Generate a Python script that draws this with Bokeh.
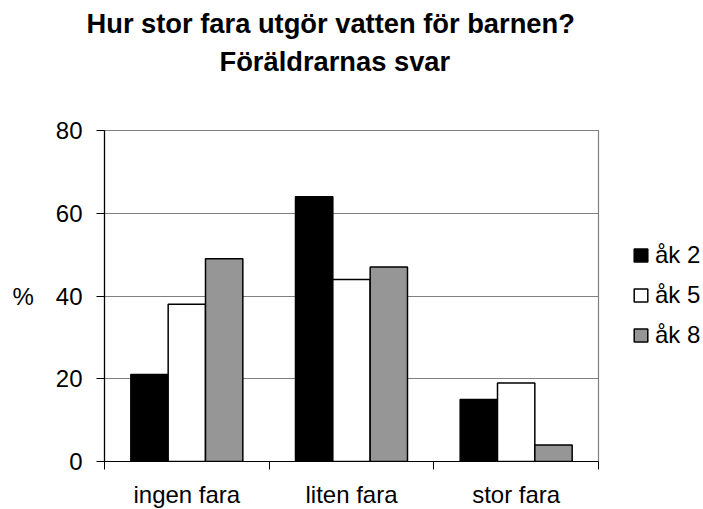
from bokeh.plotting import figure
from bokeh.models import (ColumnDataSource, FixedTicker, Legend, LegendItem, Title, Range1d)
from bokeh.transform import dodge
from bokeh.embed import file_html
from bokeh.resources import INLINE

categories = ["ingen fara", "liten fara", "stor fara"]
series_names = ["åk 2", "åk 5", "åk 8"]
ak2 = [21, 64, 15]
ak5 = [38, 44, 19]
ak8 = [49, 47, 4]
y_ticks = [0, 20, 40, 60, 80]

FONT = "Liberation Sans"
centers = [i + 0.5 for i in range(len(categories))]
src = ColumnDataSource(dict(x=centers, ak2=ak2, ak5=ak5, ak8=ak8))

p = figure(frame_width=494, frame_height=331, output_backend="svg", toolbar_location=None,
           x_range=Range1d(0, 3), y_range=Range1d(0, 80),
           min_border_left=104, min_border_right=105, min_border_top=0, min_border_bottom=48)

bw = 0.2267
fills = ["black", "white", "#969696"]
renderers = []
for key, off, fc in zip(["ak2", "ak5", "ak8"], [-bw, 0, bw], fills):
    r = p.vbar(x=dodge("x", off), top=key, width=bw, bottom=0, source=src,
               fill_color=fc, line_color="black", line_width=1.5)
    renderers.append(r)

# axes
p.xaxis.ticker = FixedTicker(ticks=centers, minor_ticks=[0, 1, 2, 3])
p.xaxis.major_label_overrides = {c: lab for c, lab in zip(centers, categories)}
p.xaxis.major_tick_out = 0
p.xaxis.major_tick_in = 0
p.xaxis.minor_tick_out = 8
p.xaxis.minor_tick_in = 0
p.xaxis.minor_tick_line_color = "black"
p.xaxis.major_label_standoff = 11

p.yaxis.ticker = FixedTicker(ticks=y_ticks, minor_ticks=[])
p.yaxis.major_tick_out = 8
p.yaxis.major_tick_in = 0
p.yaxis.major_label_standoff = 14
p.yaxis.axis_label = "%"
p.yaxis.axis_label_orientation = "horizontal"
p.yaxis.axis_label_standoff = 19
p.yaxis.axis_label_text_baseline = "alphabetic"
p.yaxis.axis_label_text_font = FONT
p.yaxis.axis_label_text_font_size = "24px"
p.yaxis.axis_label_text_font_style = "normal"
p.yaxis.axis_label_text_color = "black"

for ax in [p.xaxis[0], p.yaxis[0]]:
    ax.axis_line_color = "black"
    ax.axis_line_width = 1.2
    ax.major_tick_line_color = "black"
    ax.major_label_text_font = FONT
    ax.major_label_text_font_size = "24px"
    ax.major_label_text_color = "black"

p.xgrid.grid_line_color = None
p.ygrid.grid_line_color = "#808080"
p.ygrid.grid_line_width = 1.2
p.outline_line_color = "#808080"
p.outline_line_width = 1.2

# legend
items = [LegendItem(label=n, renderers=[r]) for n, r in zip(series_names, renderers)]
leg = Legend(items=items, location=(34, 112), margin=0, padding=0,
             glyph_width=17, glyph_height=16, label_standoff=6, spacing=12,
             label_height=24, label_text_font=FONT, label_text_font_size="24px",
             label_text_color="black",
             border_line_color=None, background_fill_alpha=0)
p.add_layout(leg, "right")

# titles (spacer closest to the frame, then line 2, then line 1)
spacer = Title(text=" ", text_font_size="1px", standoff=51)
t2 = Title(text="Föräldrarnas svar", align="left", text_font=FONT, text_font_size="27.3px",
           text_font_style="bold", text_color="black", offset=115, standoff=0)
t1 = Title(text="Hur stor fara utgör vatten för barnen?", align="left", text_font=FONT,
           text_font_size="27.3px", text_font_style="bold", text_color="black", offset=-18, standoff=10)
p.add_layout(spacer, "above")
p.add_layout(t2, "above")
p.add_layout(t1, "above")

open("out.html", "w").write(file_html(p, INLINE))
